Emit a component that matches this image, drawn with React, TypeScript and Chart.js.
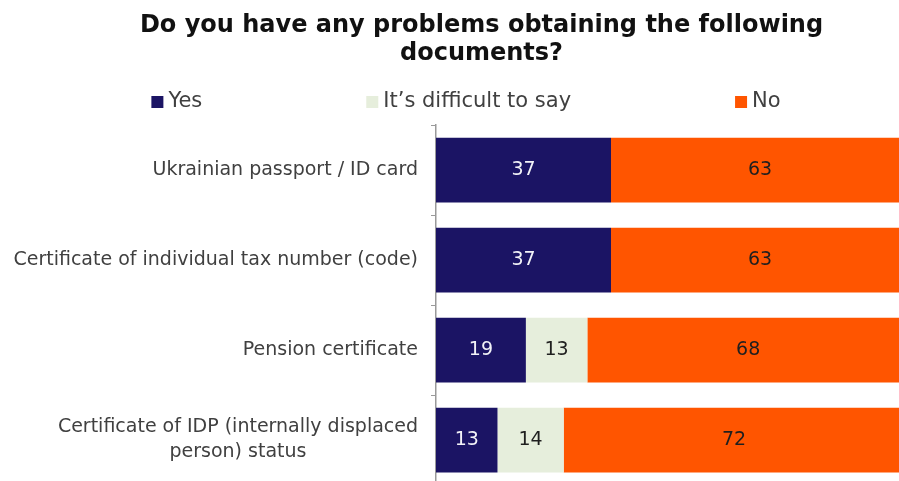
import React, { useEffect, useRef } from 'react';
import { Chart, registerables } from 'chart.js';

Chart.register(...registerables);

// ---- data ----
const categories: (string | string[])[] = [
  'Ukrainian passport / ID card',
  'Certificate of individual tax number (code)',
  'Pension certificate',
  ['Certificate of IDP (internally displaced', 'person) status'],
];
const seriesNames = ['Yes', 'It’s difficult to say', 'No'];
const yesValues = [37, 37, 19, 13];
const difficultValues = [0, 0, 13, 14];
const noValues = [63, 63, 68, 72];
const titleLines = ['Do you have any problems obtaining the following', 'documents?'];

// ---- styles ----
const FONT = '"DejaVu Sans", sans-serif';
const seriesColors = ['#1b1464', '#e6eedc', '#ff5500'];
const valueLabelColors = ['#f2f2f7', '#1f1f1f', '#1f1f1f'];

const legendPlugin = {
  id: 'customLegend',
  afterDraw(chart: any) {
    const ctx = chart.ctx as CanvasRenderingContext2D;
    ctx.save();
    ctx.font = `21px ${FONT}`;
    ctx.textBaseline = 'middle';
    ctx.textAlign = 'left';
    const box = 12;
    const gap = 5;
    const itemGap = 164;
    const items = chart.data.datasets.map((ds: any) => ({
      text: ds.label as string,
      color: ds.backgroundColor as string,
      w: ctx.measureText(ds.label).width,
    }));
    const total =
      items.reduce((s: number, it: any) => s + box + gap + it.w, 0) + itemGap * (items.length - 1);
    let x = 466 - total / 2;
    const y = 102;
    items.forEach((it: any) => {
      ctx.fillStyle = it.color;
      ctx.fillRect(x, y - box / 2, box, box);
      ctx.fillStyle = '#404040';
      ctx.fillText(it.text, x + box + gap, y);
      x += box + gap + it.w + itemGap;
    });
    ctx.restore();
  },
};

const yLabelPlugin = {
  id: 'yLabels',
  afterDraw(chart: any) {
    const scale = chart.scales.y;
    const ctx = chart.ctx as CanvasRenderingContext2D;
    ctx.save();
    ctx.font = `19px ${FONT}`;
    ctx.fillStyle = '#404040';
    ctx.textAlign = 'center';
    ctx.textBaseline = 'middle';
    const right = chart.chartArea.left - 18;
    const lh = 25;
    (chart.data.labels as (string | string[])[]).forEach((lab, i) => {
      const lines = Array.isArray(lab) ? lab : [lab];
      const widest = Math.max(...lines.map((l) => ctx.measureText(l).width));
      const cx = right - widest / 2;
      const cy = scale.getPixelForValue(i);
      lines.forEach((l, j) => ctx.fillText(l, cx, cy + (j - (lines.length - 1) / 2) * lh));
    });
    ctx.restore();
  },
};

const valueLabelPlugin = {
  id: 'valueLabels',
  afterDatasetsDraw(chart: any) {
    const ctx = chart.ctx as CanvasRenderingContext2D;
    ctx.save();
    ctx.font = `19px ${FONT}`;
    ctx.textAlign = 'center';
    ctx.textBaseline = 'middle';
    chart.data.datasets.forEach((ds: any, di: number) => {
      const meta = chart.getDatasetMeta(di);
      meta.data.forEach((el: any, i: number) => {
        const v = ds.data[i];
        if (!v) return;
        const { x, y } = el.getCenterPoint();
        ctx.fillStyle = valueLabelColors[di];
        ctx.fillText(String(v), x, y);
      });
    });
    ctx.restore();
  },
};

export default function App() {
  const ref = useRef<HTMLCanvasElement | null>(null);

  useEffect(() => {
    if (!ref.current) return;
    const values = [yesValues, difficultValues, noValues];
    const chart = new Chart(ref.current, {
      type: 'bar',
      data: {
        labels: categories as any,
        datasets: seriesNames.map((name, i) => ({
          label: name,
          data: values[i],
          backgroundColor: seriesColors[i],
          borderWidth: 0,
          categoryPercentage: 1,
          barPercentage: 0.72,
        })),
      },
      options: {
        indexAxis: 'y',
        responsive: false,
        animation: false,
        devicePixelRatio: 1,
        layout: { padding: { left: 54, right: 1, top: 0, bottom: 5 } },
        plugins: {
          legend: { display: false },
          tooltip: { enabled: false },
          title: {
            display: true,
            text: titleLines,
            color: '#111111',
            font: { family: FONT, size: 24, weight: 'bold', lineHeight: 1.17 },
            padding: { top: 12, bottom: 57 },
          },
        },
        scales: {
          x: { stacked: true, min: 0, max: 100, display: false },
          y: {
            stacked: true,
            ticks: { display: false },
            grid: { drawOnChartArea: false, drawTicks: true, tickLength: 5, color: '#9a9a9a', offset: true },
            border: { display: true, color: '#9a9a9a', width: 1.5 },
            afterFit: (s: any) => {
              s.width = 382;
            },
          },
        },
      } as any,
      plugins: [valueLabelPlugin, yLabelPlugin, legendPlugin],
    });
    return () => chart.destroy();
  }, []);

  return (
    <div
      style={{
        position: 'fixed',
        left: 0,
        top: 0,
        width: 899,
        height: 481,
        overflow: 'hidden',
        background: '#ffffff',
      }}
    >
      <canvas ref={ref} width={910} height={490} style={{ display: 'block', width: 910, height: 490 }} />
    </div>
  );
}
